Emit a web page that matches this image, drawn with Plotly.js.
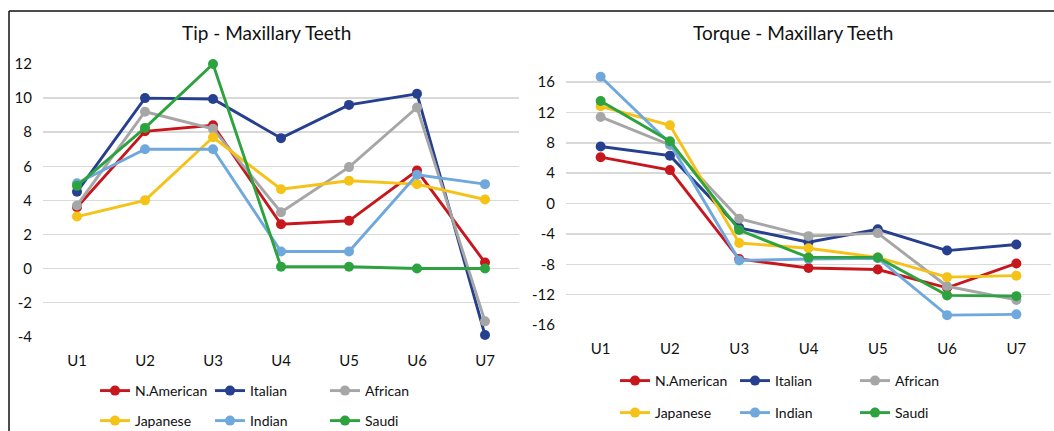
<!DOCTYPE html>
<html>
<head>
<meta charset="utf-8">
<script src="https://cdn.plot.ly/plotly-3.0.1.min.js"></script>
<style>
html,body{margin:0;padding:0;background:#fff;}
#chart{width:1054px;height:431px;}
</style>
</head>
<body>
<div id="chart"></div>
<script>
// ---- Data ----
const categories = ['U1', 'U2', 'U3', 'U4', 'U5', 'U6', 'U7'];
const seriesNames = ['N.American', 'Italian', 'African', 'Japanese', 'Indian', 'Saudi'];

// Tip - Maxillary Teeth
const tipNAmerican = [3.6, 8.05, 8.4, 2.6, 2.8, 5.75, 0.35];
const tipItalian   = [4.5, 10.0, 9.95, 7.65, 9.6, 10.25, -3.9];
const tipAfrican   = [3.7, 9.2, 8.2, 3.3, 5.95, 9.45, -3.1];
const tipJapanese  = [3.05, 4.0, 7.7, 4.65, 5.15, 4.95, 4.05];
const tipIndian    = [5.0, 7.0, 7.0, 1.0, 1.0, 5.5, 4.95];
const tipSaudi     = [4.85, 8.25, 12.0, 0.1, 0.1, 0.0, 0.0];

// Torque - Maxillary Teeth
const torqueNAmerican = [6.1, 4.4, -7.3, -8.5, -8.7, -11.1, -7.9];
const torqueItalian   = [7.5, 6.3, -3.2, -5.1, -3.4, -6.2, -5.4];
const torqueAfrican   = [11.4, 7.7, -2.0, -4.3, -3.9, -10.9, -12.7];
const torqueJapanese  = [12.8, 10.3, -5.2, -5.9, -7.1, -9.7, -9.5];
const torqueIndian    = [16.7, 7.9, -7.5, -7.3, -7.2, -14.7, -14.6];
const torqueSaudi     = [13.5, 8.2, -3.5, -7.1, -7.1, -12.1, -12.2];

const tipTicks = [-4, -2, 0, 2, 4, 6, 8, 10, 12];
const torqueTicks = [-16, -12, -8, -4, 0, 4, 8, 12, 16];

const tipTitle = 'Tip - Maxillary Teeth';
const torqueTitle = 'Torque - Maxillary Teeth';

// ---- Styles ----
const colors = ['#C8161D', '#26408F', '#A6A6A6', '#F5C218', '#6FA8DC', '#2DA33F'];
const W = 1054, H = 431;
const FONT = 'Lato, "Open Sans", sans-serif';
const px = v => v / W;
const py = v => 1 - v / H;

const tipSeries = [tipNAmerican, tipItalian, tipAfrican, tipJapanese, tipIndian, tipSaudi];
const torqueSeries = [torqueNAmerican, torqueItalian, torqueAfrican, torqueJapanese, torqueIndian, torqueSaudi];

const traces = [];
function addTraces(series, xa, ya, legA, legB) {
  series.forEach((vals, i) => {
    traces.push({
      type: 'scatter', mode: 'lines+markers',
      x: categories, y: vals, name: seriesNames[i],
      xaxis: xa, yaxis: ya,
      legend: i < 3 ? legA : legB,
      cliponaxis: false,
      line: {color: colors[i], width: 2.9},
      marker: {color: colors[i], size: 10}
    });
  });
}
addTraces(tipSeries, 'x', 'y', 'legend', 'legend2');
addTraces(torqueSeries, 'x2', 'y2', 'legend3', 'legend4');

const tickFont = {family: FONT, size: 15, color: '#111'};
const legFont = {family: FONT, size: 14, color: '#111'};

function legendAt(x, y, ew) {
  return {
    orientation: 'h', x: px(x), y: py(y), xanchor: 'left', yanchor: 'middle',
    font: legFont, entrywidth: ew, entrywidthmode: 'pixels',
    bgcolor: 'rgba(0,0,0,0)', borderwidth: 0, traceorder: 'normal'
  };
}

const xCommon = {
  type: 'category', range: [-0.5, 6.5], showgrid: false, zeroline: false,
  showline: false, ticks: '', tickfont: tickFont, ticklabelstandoff: 13, fixedrange: true
};
const yCommon = {
  showgrid: true, gridcolor: '#d9d9d9', gridwidth: 1.5, zeroline: false,
  showline: false, ticks: '', tickfont: tickFont, ticklabelstandoff: 10, fixedrange: true
};

// torque axis: -16 at y=325px, 16 at y=82px; range extended upward so the 16.7 point stays visible
const torquePxPerUnit = (325 - 82) / 32;
const torqueTop = 17.6;
const torqueTopPx = 82 - (torqueTop - 16) * torquePxPerUnit;

const layout = {
  width: W, height: H,
  margin: {l: 0, r: 0, t: 0, b: 0, autoexpand: false},
  paper_bgcolor: '#ffffff', plot_bgcolor: '#ffffff',
  showlegend: true,
  xaxis: Object.assign({}, xCommon, {domain: [px(43), px(519)], anchor: 'y', automargin: false}),
  yaxis: Object.assign({}, yCommon, {domain: [py(336.7), py(64)], range: [-4, 12], automargin: false,
    tickvals: tipTicks, ticktext: tipTicks.map(String), anchor: 'x'}),
  xaxis2: Object.assign({}, xCommon, {domain: [px(566), px(1051)], anchor: 'y2', automargin: false}),
  yaxis2: Object.assign({}, yCommon, {domain: [py(325), py(torqueTopPx)], range: [-16, torqueTop], automargin: false,
    tickvals: torqueTicks, ticktext: torqueTicks.map(String), anchor: 'x2'}),
  legend: legendAt(95, 391, 70),
  legend2: legendAt(95, 421, 70),
  legend3: legendAt(615, 381, 75),
  legend4: legendAt(615, 413, 75),
  annotations: [
    {text: tipTitle, xref: 'paper', yref: 'paper', x: px(266), y: py(32), xanchor: 'center', yanchor: 'middle',
     showarrow: false, font: {family: FONT, size: 19, color: '#111'}},
    {text: torqueTitle, xref: 'paper', yref: 'paper', x: px(793), y: py(33), xanchor: 'center', yanchor: 'middle',
     showarrow: false, font: {family: FONT, size: 19, color: '#111'}}
  ],
  shapes: [
    {type: 'line', xref: 'paper', yref: 'paper', x0: px(9), x1: 1, y0: py(11), y1: py(11), line: {color: '#111', width: 1.5}},
    {type: 'line', xref: 'paper', yref: 'paper', x0: px(9), x1: px(9), y0: 0, y1: py(11), line: {color: '#111', width: 1.5}}
  ]
};

Plotly.newPlot('chart', traces, layout, {displayModeBar: false, staticPlot: true});
</script>
</body>
</html>
